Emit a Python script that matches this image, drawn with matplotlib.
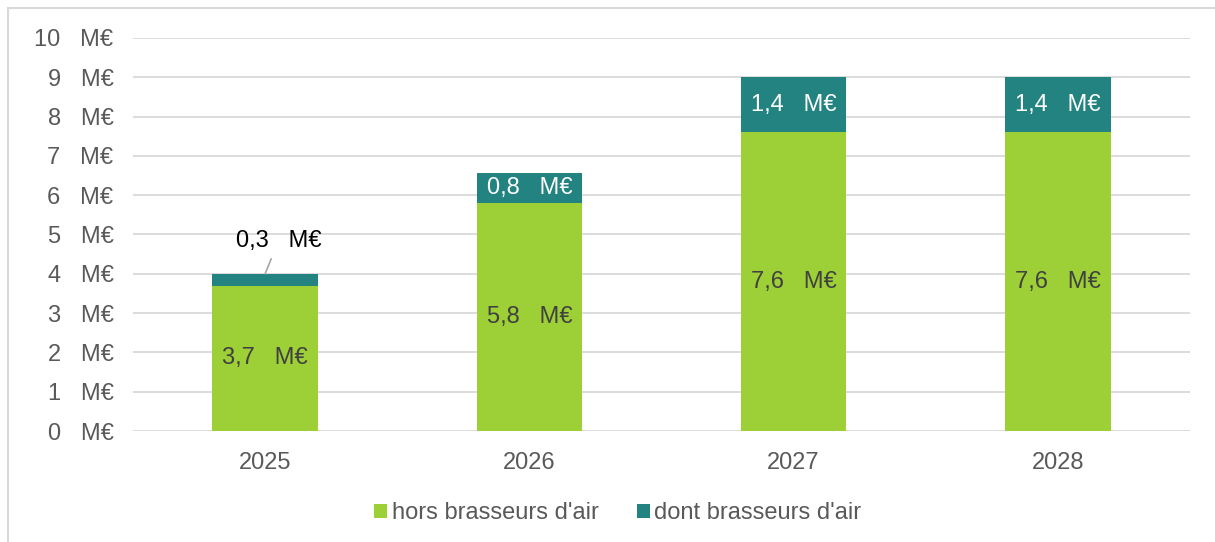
import matplotlib
matplotlib.use("Agg")
import matplotlib.pyplot as plt
from matplotlib.patches import Rectangle
import numpy as np

plt.rcParams['font.family'] = ['Liberation Sans', 'DejaVu Sans']

years = ["2025", "2026", "2027", "2028"]
hors = [3.7, 5.8, 7.6, 7.6]
dont = [0.3, 0.76, 1.4, 1.4]
series_names = ["hors brasseurs d'air", "dont brasseurs d'air"]
yticks = list(range(0, 11))

GREEN = "#9DCF37"
TEAL = "#238380"
GRAY = "#595959"
GRID = "#D9D9D9"
FS = 17

fig = plt.figure(figsize=(12.15, 5.42), dpi=100)
ax = fig.add_axes([133/1215, 1-431/542, (1190-133)/1215, (431-38)/542])

x = np.arange(len(years))
w = 0.4
b1 = ax.bar(x, hors, w, color=GREEN, label=series_names[0], zorder=3)
b2 = ax.bar(x, dont, w, bottom=hors, color=TEAL, label=series_names[1], zorder=3)

ax.set_xlim(-0.5, len(years) - 0.5)
ax.set_ylim(0, 10)
ax.set_yticks(yticks)
ax.set_yticklabels([f"{t}   M€" for t in yticks], color=GRAY, fontsize=FS)
ax.set_xticks(x)
ax.set_xticklabels(years, color=GRAY, fontsize=FS)
ax.tick_params(axis='both', length=0)
ax.tick_params(axis='y', pad=14)
ax.tick_params(axis='x', pad=15)
ax.grid(axis='y', color=GRID, linewidth=1.3, zorder=0)
for s in ax.spines.values():
    s.set_visible(False)

def fmt(v):
    return f"{v:.1f}".replace(".", ",") + "   M€"

for i in range(len(years)):
    ax.text(x[i], hors[i] / 2, fmt(hors[i]), ha='center', va='center',
            color="#404040", fontsize=FS, zorder=4)
    if dont[i] >= 0.5:
        ax.text(x[i], hors[i] + dont[i] / 2, fmt(dont[i]), ha='center', va='center',
                color="white", fontsize=FS, zorder=4)
    else:
        top = hors[i] + dont[i]
        ax.annotate(fmt(dont[i]), xy=(x[i], top), xytext=(x[i] + 0.05, top + 0.83),
                    ha='center', va='center', color="black", fontsize=FS, zorder=4,
                    arrowprops=dict(arrowstyle='-', color="#A6A6A6", lw=1.2,
                                    shrinkA=3, shrinkB=0))

leg = fig.legend(loc='center', bbox_to_anchor=(618/1215, 1-513/542), ncol=2, frameon=False,
                 fontsize=FS, handlelength=0.55, handleheight=0.55, handletextpad=0.2,
                 columnspacing=1.6)
for t in leg.get_texts():
    t.set_color(GRAY)

fig.patches.append(Rectangle((8/1215, -0.1), 1.2, (1 - 8/542) + 0.1,
                             transform=fig.transFigure, fill=False,
                             edgecolor=GRID, linewidth=1.5))

fig.savefig("out.png", dpi=100)
